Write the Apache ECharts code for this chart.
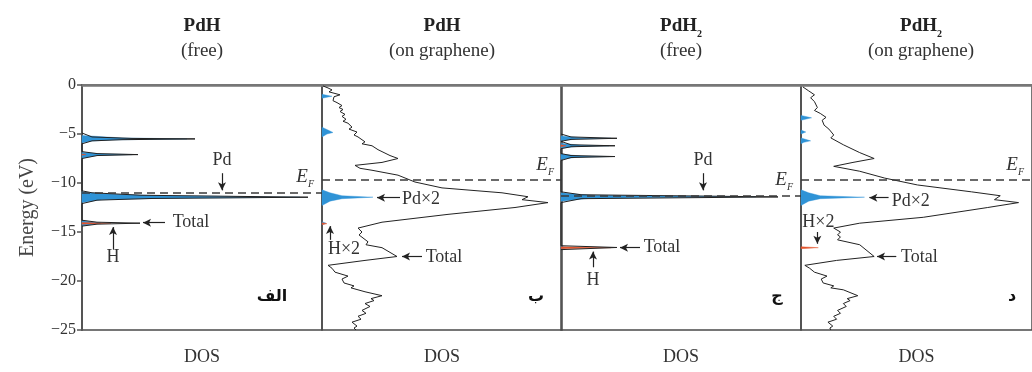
<!DOCTYPE html>
<html>
<head>
<meta charset="utf-8">
<title>DOS</title>
<script src="https://cdn.jsdelivr.net/npm/echarts@6/dist/echarts.min.js"></script>
<style>
	html, body { margin: 0; padding: 0; background: #fff; }
	#main { width: 1032px; height: 372px; }
</style>
</head>
<body>
<div id="main"></div>
<script>
// energy ticks (eV)
var energyTicks = [0, -5, -10, -15, -20, -25];
var fermi = [-11.0, -9.7, -11.3, -9.7];

// PdH (free)
var pdhFreeTotal = [[0, -4.9], [1, -5.3], [5, -5.45], [11.3, -5.5], [4, -5.58], [1, -5.7], [0, -6.0],
	[0, -6.8], [1.5, -7.0], [5.6, -7.1], [1.5, -7.2], [0, -7.5],
	[0, -10.8], [1, -11.0], [6, -11.25], [22.6, -11.45], [7, -11.58], [1.5, -11.75], [0, -12.1],
	[0, -13.8], [1.5, -14.0], [5.8, -14.1], [1.5, -14.2], [0, -14.4]];
var pdhFreePd = [
	[[0, -5.15], [4, -5.4], [10.5, -5.5], [3, -5.6], [1, -5.72], [0, -5.9]],
	[[0, -6.85], [2, -7.03], [5, -7.1], [1.5, -7.2], [0, -7.45]],
	[[0, -10.9], [2, -11.1], [8, -11.3], [21.8, -11.45], [8, -11.56], [2, -11.7], [0, -12.0]],
	[[0, -13.85], [1.2, -14.0], [1.9, -14.1], [1.2, -14.2], [0, -14.35]]
];
var pdhFreeH = [
	[[0, -14.02], [2.9, -14.1], [0, -14.2]],
	[[0, -7.05], [0.4, -7.1], [0, -7.16]]
];

// PdH (on graphene)
var pdhGrTotal = [[0.1, -0.1], [0.6, -0.3], [1.0, -0.5], [0.7, -0.7], [1.8, -1.0], [1.2, -1.2], [1.4, -1.4],
	[1.1, -1.6], [1.5, -1.8], [2.0, -2.1], [1.7, -2.3], [2.1, -2.5], [1.8, -2.7], [2.3, -3.0], [2.0, -3.2],
	[2.4, -3.5], [2.1, -3.7], [2.6, -3.9], [3.0, -4.3], [2.7, -4.5], [3.5, -4.8], [3.2, -5.1], [3.6, -5.3],
	[4.3, -5.8], [4.0, -6.0], [5.0, -6.2], [5.6, -6.6], [6.8, -7.2], [7.6, -7.5], [6.0, -7.9], [3.3, -8.2],
	[3.8, -8.5], [5.0, -8.7], [7.6, -9.2], [9.3, -9.9], [12.0, -10.5], [18.0, -11.0], [20.6, -11.4],
	[20.0, -11.7], [22.6, -12.0], [19.3, -12.5], [12.6, -13.2], [6.0, -14.0], [3.6, -14.6], [4.0, -15.0],
	[3.7, -15.3], [4.6, -16.0], [4.4, -16.3], [6.0, -16.6], [7.5, -17.5], [4.3, -17.9], [0.6, -18.4],
	[1.0, -18.7], [0.8, -18.9], [1.3, -19.1], [2.6, -19.5], [2.0, -19.8], [2.2, -20.2], [3.2, -20.5],
	[2.9, -20.7], [4.3, -21.1], [6.0, -21.5], [4.9, -21.8], [5.2, -22.0], [4.3, -22.3], [4.8, -22.6],
	[4.0, -23.0], [4.4, -23.3], [3.6, -23.6], [3.9, -23.9], [3.0, -24.2], [3.5, -24.6], [3.2, -24.8], [3.4, -25]];
var pdhGrPd = [
	[[0, -0.95], [1.0, -1.15], [0, -1.35]],
	[[0, -4.3], [0.6, -4.6], [1.1, -4.85], [0.5, -5.0], [0, -5.3]],
	[[0, -10.7], [0.8, -11.0], [2, -11.3], [5.1, -11.45], [2, -11.6], [0.8, -11.85], [0, -12.3]],
	[[0, -13.95], [0.4, -14.1], [0, -14.25]]
];
var pdhGrH = [
	[[0, -14.05], [0.5, -14.15], [0, -14.25]]
];

// PdH2 (free)
var pdh2FreeTotal = [[0, -5.0], [1, -5.3], [5.6, -5.44], [1, -5.55], [0, -5.75], [1, -6.1], [5.4, -6.2],
	[1, -6.3], [0, -6.5], [0, -7.0], [1, -7.2], [5.4, -7.3], [1, -7.4], [0, -7.7],
	[0, -10.9], [2, -11.2], [21.7, -11.42], [2, -11.6], [0, -12.0],
	[0, -16.4], [5.6, -16.58], [0, -16.8]];
var pdh2FreePd = [
	[[0, -5.2], [2, -5.38], [5.0, -5.44], [1.5, -5.52], [0, -5.7]],
	[[0, -5.95], [2, -6.15], [4.8, -6.2], [1.5, -6.28], [0, -6.45]],
	[[0, -7.05], [2, -7.25], [4.8, -7.3], [1.5, -7.38], [0, -7.6]],
	[[0, -11.0], [3, -11.25], [19.5, -11.4], [3, -11.55], [0, -11.85]],
	[[0, -16.45], [0.6, -16.6], [0, -16.75]]
];
var pdh2FreeH = [
	[[0, -16.5], [5.0, -16.6], [0, -16.7]],
	[[0, -6.1], [0.5, -6.2], [0, -6.3]]
];

// PdH2 (on graphene)
var pdh2GrTotal = [[0.2, -0.2], [0.8, -0.6], [1.4, -1.0], [1.0, -1.3], [1.4, -1.7], [1.7, -2.3], [1.4, -2.6],
	[2.0, -2.9], [2.6, -3.3], [2.2, -3.6], [2.4, -4.1], [2.9, -4.5], [3.4, -5.1], [3.1, -5.4], [4.4, -6.1],
	[6.1, -6.9], [7.6, -7.5], [5.4, -7.9], [3.4, -8.3], [6.1, -8.8], [8.7, -9.5], [12.1, -10.2],
	[17.7, -10.9], [20.7, -11.3], [20.1, -11.7], [22.6, -12.0], [19.4, -12.5], [12.7, -13.5], [6.1, -14.1],
	[3.4, -14.6], [4.1, -15.0], [3.8, -15.3], [4.1, -15.5], [3.8, -15.8], [6.1, -16.3], [7.6, -17.5],
	[3.7, -17.9], [0.4, -18.4], [0.9, -18.7], [0.7, -18.9], [1.4, -19.1], [2.7, -19.5], [2.1, -19.8],
	[2.3, -20.2], [3.4, -20.5], [3.1, -20.7], [4.4, -20.9], [5.9, -21.5], [4.8, -21.8], [5.1, -22.0],
	[4.4, -22.3], [4.7, -22.6], [3.8, -23.0], [4.1, -23.3], [3.4, -23.6], [3.7, -23.9], [2.8, -24.2],
	[3.3, -24.6], [3.0, -24.8], [3.1, -25]];
var pdh2GrPd = [
	[[0, -3.1], [1.1, -3.35], [0, -3.6]],
	[[0, -4.6], [0.5, -4.8], [0, -5.0]],
	[[0, -5.4], [1.0, -5.7], [0.3, -5.85], [0, -6.0]],
	[[0, -10.7], [0.8, -11.0], [2, -11.3], [6.6, -11.45], [2, -11.6], [0.8, -11.85], [0, -12.3]]
];
var pdh2GrH = [
	[[0, -16.5], [1.8, -16.6], [0, -16.7]]
];

var totals = [pdhFreeTotal, pdhGrTotal, pdh2FreeTotal, pdh2GrTotal];
var pds = [pdhFreePd, pdhGrPd, pdh2FreePd, pdh2GrPd];
var hs = [pdhFreeH, pdhGrH, pdh2FreeH, pdh2GrH];

var serif = '"Liberation Serif", "DejaVu Serif", serif';
var blue = '#2f93d6';
var red = '#e2532c';
var panelLeft = [82, 322, 561, 801];

// annotations: arrows [from, to] and texts
var arrows = [
	[[[14.0, -9.0], [14.0, -10.75]], [[8.3, -14.05], [6.1, -14.05]], [[3.1, -16.8], [3.1, -14.5]]],
	[[[7.8, -11.5], [5.5, -11.5]], [[10.0, -17.5], [8.0, -17.5]], [[0.8, -15.8], [0.8, -14.4]]],
	[[[14.2, -9.0], [14.2, -10.75]], [[7.9, -16.6], [5.9, -16.6]], [[3.2, -18.6], [3.2, -17.0]]],
	[[[9.1, -11.5], [7.1, -11.5]], [[9.9, -17.5], [7.9, -17.5]], [[1.7, -15.0], [1.7, -16.2]]]
];
var texts = [
	[['Pd', 14.0, -7.65], ['Total', 10.9, -14.0], ['H', 3.1, -17.6]],
	[['Pd×2', 9.9, -11.7], ['Total', 12.2, -17.55], ['H×2', 2.2, -16.8]],
	[['Pd', 14.2, -7.65], ['Total', 10.1, -16.6], ['H', 3.2, -19.9]],
	[['Pd×2', 11.4, -11.85], ['Total', 12.3, -17.55], ['H×2', 1.8, -14.0]]
];

function polyRender(polys, color) {
	return function (params, api) {
		var pts = polys[params.dataIndex].map(function (p) { return api.coord(p); });
		return {
			type: 'polygon',
			shape: { points: pts },
			style: { fill: color, stroke: color, lineWidth: 0.4 }
		};
	};
}

var grid = [], xAxis = [], yAxis = [], series = [];
for (var i = 0; i < 4; i++) {
	grid.push({
		left: panelLeft[i], top: 85, width: 240, height: 245,
		show: true, borderColor: '#4a4a4a', borderWidth: 1.5
	});
	xAxis.push({
		gridIndex: i, type: 'value', min: 0, max: 24,
		name: 'DOS', nameLocation: 'middle', nameGap: 18,
		nameTextStyle: { fontFamily: serif, fontSize: 18, color: '#333' },
		axisLine: { show: true, lineStyle: { color: '#777', width: 2.5 } },
		axisTick: { show: false }, axisLabel: { show: false }, splitLine: { show: false }
	});
	yAxis.push({
		gridIndex: i, type: 'value', min: -25, max: 0, interval: 5,
		name: i === 0 ? 'Energy (eV)' : '', nameLocation: 'middle', nameGap: 44,
		nameTextStyle: { fontFamily: serif, fontSize: 20, color: '#444' },
		axisLine: { show: i === 0, lineStyle: { color: '#555', width: 2 } },
		axisTick: { show: i === 0, length: 5, lineStyle: { color: '#555', width: 1.5 } },
		axisLabel: {
			show: i === 0, fontFamily: serif, fontSize: 16, color: '#333', margin: 6,
			formatter: function (v) { return String(v).replace('-', '−'); }
		},
		splitLine: { show: false }
	});

	series.push({
		type: 'custom', xAxisIndex: i, yAxisIndex: i, silent: true,
		renderItem: polyRender(pds[i], blue),
		data: pds[i].map(function (p) { return p[2] || p[1]; })
	});
	series.push({
		type: 'custom', xAxisIndex: i, yAxisIndex: i, silent: true,
		renderItem: polyRender(hs[i], red),
		data: hs[i].map(function (p) { return p[1]; })
	});
	series.push({
		type: 'line', xAxisIndex: i, yAxisIndex: i, silent: true,
		data: totals[i], showSymbol: false, symbol: 'none',
		lineStyle: { color: '#222', width: 1 },
		markLine: {
			silent: true, symbol: 'none',
			lineStyle: { type: [8, 5], color: '#3a3a3a', width: 1.6 },
			label: {
				position: 'insideEndTop', distance: [8, 6],
				formatter: '{e|E}{f|F}',
				rich: {
					e: { fontFamily: serif, fontStyle: 'italic', fontSize: 19, color: '#333' },
					f: { fontFamily: serif, fontStyle: 'italic', fontSize: 10, color: '#333', verticalAlign: 'bottom', padding: [0, 0, -3, 0] }
				}
			},
			data: [{ yAxis: fermi[i] }]
		}
	});
	// arrows and labels
	series.push({
		type: 'line', xAxisIndex: i, yAxisIndex: i, silent: true,
		data: [], showSymbol: false,
		markLine: {
			silent: true, symbol: ['none', 'arrow'], symbolSize: [6, 8],
			lineStyle: { type: 'solid', color: '#222', width: 1.2 },
			label: { show: false },
			data: arrows[i].map(function (a) {
				return [{ coord: a[0] }, { coord: a[1] }];
			})
		},
		markPoint: {
			silent: true, symbol: 'circle', symbolSize: 0,
			itemStyle: { color: 'transparent' },
			label: {
				show: true, position: 'inside', fontFamily: serif, fontSize: 18, color: '#333',
				formatter: function (p) { return p.name; }
			},
			data: texts[i].map(function (t) {
				return { name: t[0], coord: [t[1], t[2]] };
			})
		}
	});
}

var titles = [
	'{b|PdH}\n{n|(free)}',
	'{b|PdH}\n{n|(on graphene)}',
	'{b|PdH}{s|2}\n{n|(free)}',
	'{b|PdH}{s|2}\n{n|(on graphene)}'
];
var letters = ['الف', 'ب', 'ج', 'د'];
var letterX = [272, 536, 777, 1012];

var graphic = [];
for (var j = 0; j < 4; j++) {
	graphic.push({
		type: 'text', x: panelLeft[j] + 120, y: 14,
		style: {
			text: titles[j], align: 'center', fill: '#222',
			rich: {
				b: { fontFamily: serif, fontWeight: 'bold', fontSize: 19, lineHeight: 25, fill: '#222' },
				s: { fontFamily: serif, fontWeight: 'bold', fontSize: 10, lineHeight: 25, verticalAlign: 'bottom', fill: '#222' },
				n: { fontFamily: serif, fontSize: 19, lineHeight: 25, fill: '#333' }
			}
		}
	});
	graphic.push({
		type: 'text', x: letterX[j], y: 289,
		style: {
			text: letters[j], align: 'center', fill: '#111',
			font: 'bold 16px "DejaVu Sans", sans-serif'
		}
	});
}

var myChart = echarts.init(document.getElementById('main'));
myChart.setOption({
	animation: false,
	backgroundColor: '#fff',
	grid: grid,
	xAxis: xAxis,
	yAxis: yAxis,
	series: series,
	graphic: graphic
});
</script>
</body>
</html>
